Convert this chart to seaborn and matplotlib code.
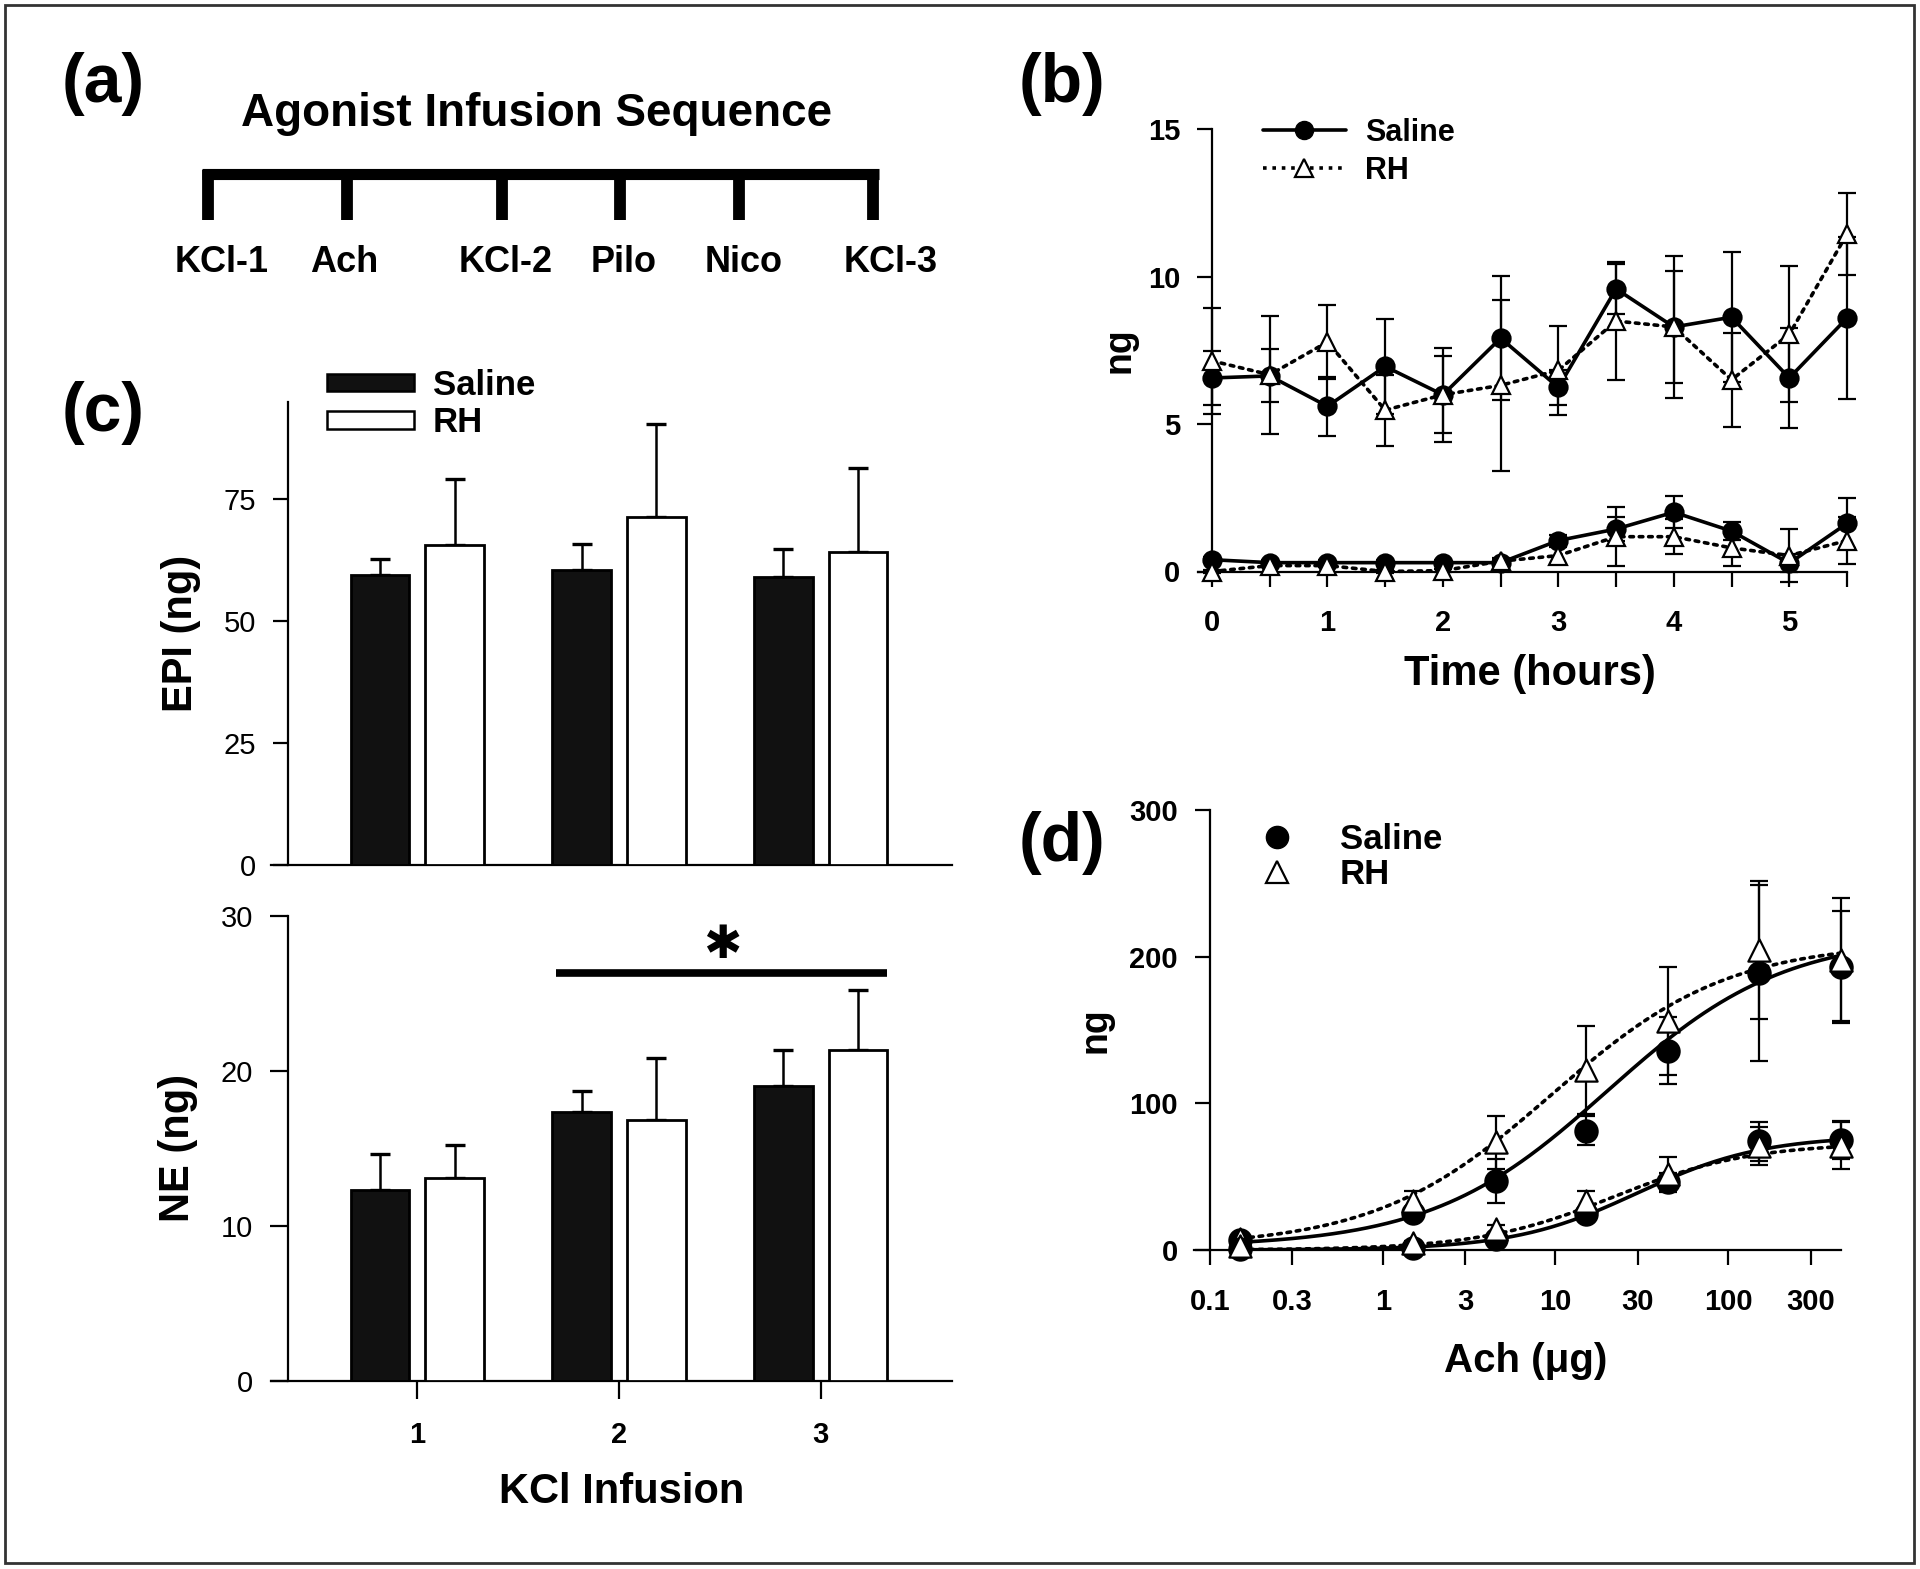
import numpy as np
import pandas as pd
import seaborn as sns
import matplotlib.pyplot as plt
from matplotlib.lines import Line2D
from matplotlib.patches import Patch, Rectangle

# (a) infusion order
seq_labels = ["KCl-1", "Ach", "KCl-2", "Pilo", "Nico", "KCl-3"]

# (b) time course, ng (upper = EPI, lower = NE)
hours = [0, 0.5, 1, 1.5, 2, 2.5, 3, 3.5, 4, 4.5, 5, 5.5]
tc_epi_saline = [6.56, 6.63, 5.60, 6.95, 5.99, 7.91, 6.24, 9.58, 8.29, 8.62, 6.56, 8.59]
tc_epi_saline_err = [0.9, 0.9, 1.0, 1.6, 1.6, 2.1, 0.6, 0.85, 2.4, 2.2, 1.7, 2.75]
tc_epi_rh = [7.14, 6.67, 7.78, 5.47, 5.99, 6.31, 6.82, 8.49, 8.29, 6.50, 8.04, 11.44]
tc_epi_rh_err = [1.8, 2.0, 1.25, 1.2, 1.3, 2.9, 1.5, 2.0, 1.9, 1.6, 2.3, 1.4]
tc_ne_saline = [0.4, 0.3, 0.3, 0.3, 0.3, 0.3, 1.05, 1.44, 2.01, 1.37, 0.28, 1.63]
tc_ne_saline_err = [0.1, 0.1, 0.1, 0.1, 0.1, 0.1, 0.2, 0.4, 0.55, 0.3, 0.3, 0.85]
tc_ne_rh = [0.0, 0.2, 0.2, 0.0, 0.03, 0.35, 0.54, 1.18, 1.18, 0.80, 0.54, 1.05]
tc_ne_rh_err = [0.05, 0.05, 0.05, 0.05, 0.05, 0.1, 0.3, 1.0, 0.6, 0.6, 0.9, 0.8]

# (c) KCl infusions
kcl_infusion = ["1", "2", "3"]
epi_bar_saline = [59.5, 60.6, 59.1]
epi_bar_saline_err = [3.3, 5.3, 5.7]
epi_bar_rh = [65.7, 71.5, 64.2]
epi_bar_rh_err = [13.4, 18.9, 17.2]
ne_bar_saline = [12.3, 17.3, 19.0]
ne_bar_saline_err = [2.3, 1.4, 2.3]
ne_bar_rh = [13.1, 16.8, 21.3]
ne_bar_rh_err = [2.1, 4.0, 3.9]
sig_bar = {"x0": 0.69, "x1": 2.33, "y": 26.3}

# (d) Ach dose response, ng
ach_dose = [0.15, 1.5, 4.5, 15, 45, 150, 450]
dr_epi_saline = [6.5, 25.4, 47.2, 81.4, 136, 189, 193]
dr_epi_saline_err = [3, 3, 15, 10, 23, 60, 38]
dr_epi_rh = [7.5, 33.5, 73.3, 123, 156, 204.6, 198]
dr_epi_rh_err = [3, 7, 18, 30, 37, 47, 42]
dr_ne_saline = [0.5, 1.6, 7.5, 24.4, 46.6, 74, 75]
dr_ne_saline_err = [1, 1, 2, 3, 6, 13, 13]
dr_ne_rh = [2.6, 4.9, 14, 33.5, 51.5, 71, 71]
dr_ne_rh_err = [1, 1, 3, 7, 12, 13, 16]
# sigmoid fits: bottom, top, EC50, Hill slope
fit_epi_saline = [2, 215, 20, 0.85]
fit_epi_rh = [2, 210, 9.5, 0.85]
fit_ne_saline = [0, 78, 30, 1.2]
fit_ne_rh = [0, 73, 22, 1.1]

sns.set_theme(style="ticks")
plt.rcParams["font.family"] = ["Liberation Sans", "DejaVu Sans"]
plt.rcParams["font.weight"] = "bold"
plt.rcParams["text.color"] = "black"
plt.rcParams["axes.labelcolor"] = "black"
plt.rcParams["xtick.color"] = "black"
plt.rcParams["ytick.color"] = "black"

W, H = 1920, 1569
fig = plt.figure(figsize=(W / 100, H / 100), dpi=100)

# full-figure pixel canvas for border, panel letters and the schematic
bg = fig.add_axes([0, 0, 1, 1], zorder=-1)
bg.set_xlim(0, W)
bg.set_ylim(H, 0)
bg.axis("off")
bg.add_patch(Rectangle((5, 5), W - 11, H - 11, fill=False, lw=2, ec="#333333"))


def px_axes(left, top, right, bottom):
    ax = fig.add_axes([left / W, 1 - bottom / H, (right - left) / W, (bottom - top) / H])
    ax.set_facecolor("none")
    return ax


def style_axes(ax, yweight="bold", tick_len=11, xpad=16):
    sns.despine(ax=ax)
    for s in ["left", "bottom"]:
        ax.spines[s].set_color("black")
        ax.spines[s].set_linewidth(1.6)
    ax.tick_params(direction="out", length=tick_len, width=1.6, color="black")
    ax.tick_params(axis="y", pad=12)
    ax.tick_params(axis="x", pad=xpad)
    for lab in ax.get_xticklabels():
        lab.set_fontsize(21)
        lab.set_fontweight("bold")
    for lab in ax.get_yticklabels():
        lab.set_fontsize(21)
        lab.set_fontweight(yweight)


def place_label(ax, which, text, x, y, size):
    if which == "y":
        ax.set_ylabel(text, fontsize=size, fontweight="bold", va="center", ha="center")
        ax.yaxis.set_label_coords(x, y, transform=bg.transData)
    else:
        ax.set_xlabel(text, fontsize=size, fontweight="bold", va="center", ha="center")
        ax.xaxis.set_label_coords(x, y, transform=bg.transData)


# panel letters
for letter, (lx, ly) in zip("abcd", [(103, 84), (1062, 84), (103, 413), (1062, 843)]):
    bg.text(lx, ly, f"({letter})", fontsize=49, fontweight="bold", ha="center", va="center")

# ---------- (a) schematic ----------
bracket_x = [208, 347, 502, 620, 739, 873]
label_x = [222, 344, 506, 624, 744, 891]
bg.text(537, 114, "Agonist Infusion Sequence", fontsize=33, fontweight="bold",
        ha="center", va="center")
bg.plot([bracket_x[0] - 6, bracket_x[-1] + 6], [174, 174], color="black", lw=8,
        solid_capstyle="butt")
for bx, tx, lab in zip(bracket_x, label_x, seq_labels):
    bg.plot([bx, bx], [170, 220], color="black", lw=8.5, solid_capstyle="butt")
    bg.text(tx, 263, lab, fontsize=26, fontweight="bold", ha="center", va="center")

# ---------- (b) time course ----------
ax_b = px_axes(1212, 129, 1847, 571.5)
styles = {
    "Saline": dict(linestyle="-", marker="o", markerfacecolor="black"),
    "RH": dict(linestyle=(0, (1, 1.6)), marker="^", markerfacecolor="white"),
}
tc_series = [
    (tc_epi_saline, tc_epi_saline_err, "Saline"),
    (tc_epi_rh, tc_epi_rh_err, "RH"),
    (tc_ne_saline, tc_ne_saline_err, "Saline"),
    (tc_ne_rh, tc_ne_rh_err, "RH"),
]
for vals, errs, grp in tc_series:
    eb = ax_b.errorbar(hours, vals, yerr=errs, fmt="none", ecolor="black", elinewidth=1.6,
                       capsize=6.5, capthick=1.6, zorder=2)
    for art in eb.get_children():
        art.set_clip_on(False)
    sns.lineplot(x=hours, y=vals, ax=ax_b, color="black", linewidth=2.6,
                 markersize=13, markeredgecolor="black", markeredgewidth=1.6,
                 dash_capstyle="round", zorder=4, clip_on=False, **styles[grp])
ax_b.set_xlim(0, 5.5)
ax_b.set_ylim(0, 15)
ax_b.set_yticks([0, 5, 10, 15])
ax_b.set_xticks([0, 1, 2, 3, 4, 5])
ax_b.set_xticks([0.5, 1.5, 2.5, 3.5, 4.5, 5.5], minor=True)
ax_b.tick_params(which="minor", axis="x", direction="out", length=11, width=1.6, color="black")
style_axes(ax_b)
ax_b.spines["bottom"].set_bounds(-0.125, 5.5)
place_label(ax_b, "y", "ng", 1120, 350, 27)
place_label(ax_b, "x", "Time (hours)", 1530, 674, 30)
b_handles = [
    Line2D([], [], color="black", lw=2.6, marker="o", markersize=13, markerfacecolor="black",
           markeredgecolor="black"),
    Line2D([], [], color="black", lw=2.6, linestyle=(0, (1, 1.6)), marker="^", markersize=13,
           markerfacecolor="white", markeredgecolor="black", markeredgewidth=1.6),
]
ax_b.legend(b_handles, ["Saline", "RH"], loc="upper left", bbox_to_anchor=(1263, 118),
            bbox_transform=bg.transData, frameon=False, handlelength=2.7,
            handletextpad=0.65, labelspacing=0.25, borderpad=0, borderaxespad=0,
            prop={"weight": "bold", "size": 22})

# ---------- (c) bar charts ----------
ax_epi = px_axes(288, 402, 952, 865)
ax_ne = px_axes(288, 915.6, 952, 1380.6)
palette = {"Saline": "#111111", "RH": "white"}
for ax, sal, sal_err, rh, rh_err in [
    (ax_epi, epi_bar_saline, epi_bar_saline_err, epi_bar_rh, epi_bar_rh_err),
    (ax_ne, ne_bar_saline, ne_bar_saline_err, ne_bar_rh, ne_bar_rh_err),
]:
    df = pd.DataFrame({
        "infusion": kcl_infusion * 2,
        "group": ["Saline"] * 3 + ["RH"] * 3,
        "value": sal + rh,
    })
    sns.barplot(data=df, x="infusion", y="value", hue="group", hue_order=["Saline", "RH"],
                palette=palette, edgecolor="black", linewidth=2, width=0.74, gap=0.215,
                errorbar=None, legend=False, ax=ax, zorder=3)
    for patch, e in zip(ax.patches, sal_err + rh_err):
        xc = patch.get_x() + patch.get_width() / 2
        ax.errorbar(xc, patch.get_height(), yerr=[[0], [e]], fmt="none", ecolor="black",
                    elinewidth=1.8, capsize=7, capthick=2.4, zorder=2)
    ax.set_xlim(-0.64, 2.65)
    ax.spines["bottom"].set_bounds(-0.725, 2.65)

ax_epi.set_ylim(0, 95)
ax_epi.set_yticks([0, 25, 50, 75])
style_axes(ax_epi, yweight="normal")
ax_epi.tick_params(axis="x", length=0, labelbottom=False)
ax_epi.set_xlabel("")
place_label(ax_epi, "y", "EPI (ng)", 181, 633, 30)
c_handles = [Patch(facecolor="#111111", edgecolor="black", lw=1.8),
             Patch(facecolor="white", edgecolor="black", lw=1.8)]
ax_epi.legend(c_handles, ["Saline", "RH"], loc="upper left", bbox_to_anchor=(327, 369),
              bbox_transform=bg.transData, frameon=False, handlelength=2.5, handleheight=0.4,
              handletextpad=0.55, labelspacing=0.12, borderpad=0, borderaxespad=0,
              prop={"weight": "bold", "size": 25})

ax_ne.set_ylim(0, 30)
ax_ne.set_yticks([0, 10, 20, 30])
style_axes(ax_ne, yweight="normal", tick_len=13, xpad=16)
place_label(ax_ne, "y", "NE (ng)", 178, 1148, 30)
place_label(ax_ne, "x", "KCl Infusion", 622, 1492, 30)
ax_ne.plot([sig_bar["x0"], sig_bar["x1"]], [sig_bar["y"], sig_bar["y"]], color="black",
           lw=5.5, solid_capstyle="butt", clip_on=False)
ax_ne.text((sig_bar["x0"] + sig_bar["x1"]) / 2, sig_bar["y"] + 1.75, "\u2731",
           family="DejaVu Sans", fontsize=33, ha="center", va="center")

# ---------- (d) dose response ----------
ax_d = px_axes(1210, 810, 1841, 1250)
ax_d.set_xscale("log")
curve_x = np.logspace(np.log10(ach_dose[0]), np.log10(ach_dose[-1]), 300)
for params, ls in [(fit_epi_saline, "-"), (fit_epi_rh, (0, (1, 1.6))),
                   (fit_ne_saline, "-"), (fit_ne_rh, (0, (1, 1.6)))]:
    bottom, top, ec50, hill = params
    curve_y = bottom + (top - bottom) / (1 + (ec50 / curve_x) ** hill)
    sns.lineplot(x=curve_x, y=curve_y, ax=ax_d, color="black", linewidth=2.6, linestyle=ls,
                 dash_capstyle="round", zorder=3, sort=False)
dr_series = [
    (dr_epi_saline, dr_epi_saline_err, "Saline"),
    (dr_epi_rh, dr_epi_rh_err, "RH"),
    (dr_ne_saline, dr_ne_saline_err, "Saline"),
    (dr_ne_rh, dr_ne_rh_err, "RH"),
]
for vals, errs, grp in dr_series:
    eb = ax_d.errorbar(ach_dose, vals, yerr=errs, fmt="none", ecolor="black", elinewidth=1.6,
                       capsize=6.5, capthick=1.6, zorder=2)
    for art in eb.get_children():
        art.set_clip_on(False)
    sns.scatterplot(x=ach_dose, y=vals, ax=ax_d, marker=styles[grp]["marker"], s=16 ** 2,
                    color=styles[grp]["markerfacecolor"], edgecolor="black", linewidth=1.6,
                    zorder=4, clip_on=False)
ax_d.set_xlim(0.1, 450)
ax_d.set_ylim(0, 300)
ax_d.set_yticks([0, 100, 200, 300])
ax_d.set_xticks([0.1, 0.3, 1, 3, 10, 30, 100, 300])
ax_d.set_xticklabels(["0.1", "0.3", "1", "3", "10", "30", "100", "300"])
ax_d.xaxis.set_minor_locator(plt.NullLocator())
style_axes(ax_d)
ax_d.spines["bottom"].set_bounds(0.081, 450)
place_label(ax_d, "y", "ng", 1095, 1030, 27)
place_label(ax_d, "x", "Ach (\u03bcg)", 1526, 1361, 29)
d_handles = [
    Line2D([], [], ls="none", marker="o", markersize=16, markerfacecolor="black",
           markeredgecolor="black"),
    Line2D([], [], ls="none", marker="^", markersize=16, markerfacecolor="white",
           markeredgecolor="black", markeredgewidth=1.6),
]
ax_d.legend(d_handles, ["Saline", "RH"], loc="upper left", bbox_to_anchor=(1260, 823),
            bbox_transform=bg.transData, frameon=False, handlelength=1.0,
            handletextpad=1.3, labelspacing=0.05, borderpad=0, borderaxespad=0,
            prop={"weight": "bold", "size": 25})

fig.savefig("out.png", dpi=100)
plt.close(fig)
